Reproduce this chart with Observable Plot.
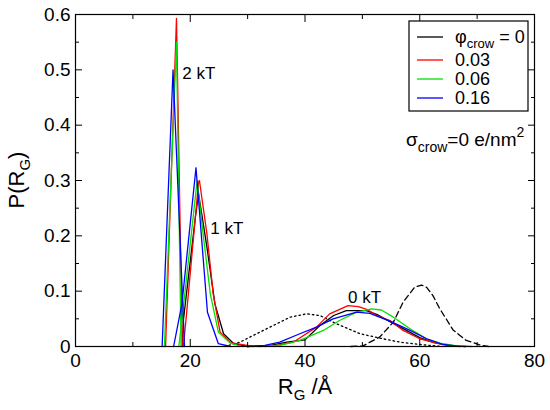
<!DOCTYPE html>
<html>
<head>
<meta charset="utf-8">
<script src="https://cdn.jsdelivr.net/npm/d3@7"></script>
<script src="https://cdn.jsdelivr.net/npm/@observablehq/plot@0.6"></script>
<style>
  html, body { margin: 0; padding: 0; background: #fff; }
  #chart { width: 550px; height: 410px; }
  svg { font-family: "Liberation Sans", Arial, Helvetica, sans-serif; }
</style>
</head>
<body>
<div id="chart"></div>
<script>
// ---- data ----
const xTicks = [0, 20, 40, 60, 80];
const xMinorTicks = [10, 30, 50, 70];
const yTicks = [0, 0.1, 0.2, 0.3, 0.4, 0.5, 0.6];
const yMinorTicks = [0.05, 0.15, 0.25, 0.35, 0.45, 0.55];
const xTickLabels = ["0", "20", "40", "60", "80"];
const yTickLabels = ["0", "0.1", "0.2", "0.3", "0.4", "0.5", "0.6"];

const seriesNames = ["0", "0.03", "0.06", "0.16"];
const seriesColors = ["#000000", "#ff0000", "#00e000", "#0000ff"];

// 0 kT reference curves (black dotted / dashed)
const dotted0kT = [[26,0],[28.7,0.008],[30.4,0.017],[33.9,0.035],[37.4,0.053],[40.3,0.059],[42.6,0.056],[45.5,0.041],[49.6,0.023],[53.6,0.014],[56.5,0.008],[58.8,0.005],[61.7,0.002],[64,0]];
const dashed0kT = [[48,0],[50.1,0.001],[53,0.017],[55.4,0.044],[57.1,0.08],[59.1,0.107],[60.3,0.111],[61.2,0.107],[62.3,0.092],[63.5,0.068],[64.6,0.05],[65.8,0.03],[67,0.02],[68.1,0.011],[69.3,0.007],[70.4,0.003],[72,0]];

// phi = 0 (black)
const black1kT = [[18.6,0],[18.8,0.047],[20.9,0.234],[21.45,0.276],[22.9,0.18],[24.3,0.077],[25.8,0.023],[27.6,0.005],[30,0]];
const black0kT = [[30,0],[34,0.002],[36.8,0.008],[40,0.012],[42.6,0.038],[45,0.056],[47.2,0.065],[50.7,0.065],[52.5,0.058],[54.8,0.045],[57.5,0.03],[60,0.016],[62.5,0.007],[65,0.002],[68,0]];
// phi = 0.03 (red)
const red2kT = [[15.7,0],[17.6,0.593],[18.6,0]];
const red1kT = [[18.8,0],[19.3,0.053],[21.45,0.297],[21.6,0.3],[22.9,0.204],[24,0.095],[25.2,0.026],[27,0.007],[29.4,0.003],[31,0]];
const red0kT = [[32,0],[35,0.002],[38,0.008],[42,0.035],[44.3,0.059],[47.5,0.074],[49.3,0.072],[51,0.066],[52.5,0.056],[54.8,0.047],[57.1,0.029],[60,0.014],[62.9,0.006],[65,0.002],[68,0]];
// phi = 0.06 (green)
const green2kT = [[15.5,0],[17.6,0.55],[18.4,0]];
const green1kT = [[18,0],[18.55,0.047],[21.2,0.3],[22.3,0.198],[23.5,0.095],[24.9,0.026],[27,0.006],[29,0]];
const green0kT = [[33,0],[36,0.003],[39.1,0.011],[43.2,0.029],[46,0.047],[49,0.062],[51.6,0.068],[53.3,0.066],[55.4,0.053],[58.3,0.032],[61.2,0.014],[63.5,0.006],[66,0.002],[69,0]];
// phi = 0.16 (blue)
const blue2kT = [[15.1,0],[17,0.5],[19,0]];
const blue1kT = [[17.1,0],[18.55,0.077],[21,0.323],[23,0.062],[24.9,0.005],[27,0]];
const blue0kT = [[30,0],[33,0.002],[35.6,0.008],[39.1,0.023],[42,0.035],[44.9,0.05],[49,0.062],[51.3,0.06],[54.8,0.046],[58.3,0.029],[61.2,0.014],[64,0.004],[67,0]];

const annotations = [
  {x: 18.6, y: 0.494, label: "2 kT"},
  {x: 23.5, y: 0.213, label: "1 kT"},
  {x: 47.5, y: 0.089, label: "0 kT"}
];

// ---- chart ----
const curves = [
  {data: black1kT, c: 0}, {data: black0kT, c: 0},
  {data: red2kT, c: 1}, {data: red1kT, c: 1}, {data: red0kT, c: 1},
  {data: green2kT, c: 2}, {data: green1kT, c: 2}, {data: green0kT, c: 2},
  {data: blue2kT, c: 3}, {data: blue1kT, c: 3}, {data: blue0kT, c: 3}
];

const lineOpts = (color, extra = {}) => ({x: d => d[0], y: d => d[1], stroke: color, strokeWidth: 1.3, ...extra});
const blank = () => "";

const plot = Plot.plot({
  width: 550,
  height: 410,
  marginLeft: 75,
  marginRight: 16,
  marginTop: 14,
  marginBottom: 64,
  style: {fontFamily: '"Liberation Sans", Arial, sans-serif', background: "white"},
  x: {domain: [0, 80]},
  y: {domain: [0, 0.6]},
  marks: [
    Plot.line(dotted0kT, lineOpts("#000", {strokeDasharray: "1.5,3"})),
    Plot.line(dashed0kT, lineOpts("#000", {strokeDasharray: "6,3.5"})),
    ...curves.map(s => Plot.line(s.data, lineOpts(seriesColors[s.c]))),
    Plot.text(annotations, {x: "x", y: "y", text: "label", textAnchor: "start", fontSize: 17, fill: "#000"}),
    Plot.axisX(xTicks, {anchor: "bottom", tickSize: -7, tickPadding: 14, fontSize: 19, label: null,
      tickFormat: d => xTickLabels[xTicks.indexOf(d)]}),
    Plot.axisX(xMinorTicks, {anchor: "bottom", tickSize: -4, tickFormat: blank, label: null}),
    Plot.axisX(xTicks, {anchor: "top", tickSize: -7, tickFormat: blank, label: null}),
    Plot.axisX(xMinorTicks, {anchor: "top", tickSize: -4, tickFormat: blank, label: null}),
    Plot.axisY(yTicks, {anchor: "left", tickSize: -7, tickPadding: 12, fontSize: 19, label: null,
      tickFormat: d => yTickLabels[yTicks.indexOf(d)]}),
    Plot.axisY(yMinorTicks, {anchor: "left", tickSize: -4, tickFormat: blank, label: null}),
    Plot.axisY(yTicks, {anchor: "right", tickSize: -7, tickFormat: blank, label: null}),
    Plot.axisY(yMinorTicks, {anchor: "right", tickSize: -4, tickFormat: blank, label: null}),
    Plot.frame({stroke: "#000", strokeWidth: 1.2})
  ]
});

document.getElementById("chart").appendChild(plot);

// ---- titles, legend and label (text overlays) ----
const svg = d3.select(plot);
const font = '"Liberation Sans", Arial, sans-serif';

// x-axis title
const xt = svg.append("text").attr("x", 305).attr("y", 394).attr("text-anchor", "middle")
  .attr("font-family", font).attr("font-size", 22).attr("fill", "#000");
xt.append("tspan").text("R");
xt.append("tspan").attr("font-size", 15).attr("dy", 6).text("G");
xt.append("tspan").attr("dy", -6).text(" /Å");

// y-axis title
const yt = svg.append("text").attr("transform", "translate(24,180) rotate(-90)").attr("text-anchor", "middle")
  .attr("font-family", font).attr("font-size", 22).attr("fill", "#000");
yt.append("tspan").text("P(R");
yt.append("tspan").attr("font-size", 15).attr("dy", 6).text("G");
yt.append("tspan").attr("dy", -6).text(")");

// legend
const lg = svg.append("g").attr("font-family", font).attr("font-size", 18).attr("fill", "#000")
  .attr("text-anchor", "start");
lg.append("rect").attr("x", 409).attr("y", 21).attr("width", 119).attr("height", 90)
  .attr("fill", "white").attr("stroke", "#000").attr("stroke-width", 1.2);
const rowY = [37, 60, 79, 98];
seriesNames.forEach((name, i) => {
  lg.append("line").attr("x1", 417).attr("x2", 443).attr("y1", rowY[i]).attr("y2", rowY[i])
    .attr("stroke", seriesColors[i]).attr("stroke-width", 1.3);
  const t = lg.append("text").attr("x", 455).attr("y", rowY[i] + 6).attr("text-anchor", "start");
  if (i === 0) {
    t.append("tspan").text("φ");
    t.append("tspan").attr("font-size", 13).attr("dy", 5).text("crow");
    t.append("tspan").attr("dy", -5).text(" = " + name);
  } else {
    t.text(name);
  }
});

// surface charge label
const st = svg.append("text").attr("x", 406).attr("y", 146).attr("text-anchor", "start")
  .attr("font-family", font).attr("font-size", 19).attr("fill", "#000");
st.append("tspan").text("σ");
st.append("tspan").attr("font-size", 14).attr("dy", 6).text("crow");
st.append("tspan").attr("dy", -6).text("=0 e/nm");
st.append("tspan").attr("font-size", 14).attr("dy", -9).text("2");
</script>
</body>
</html>
